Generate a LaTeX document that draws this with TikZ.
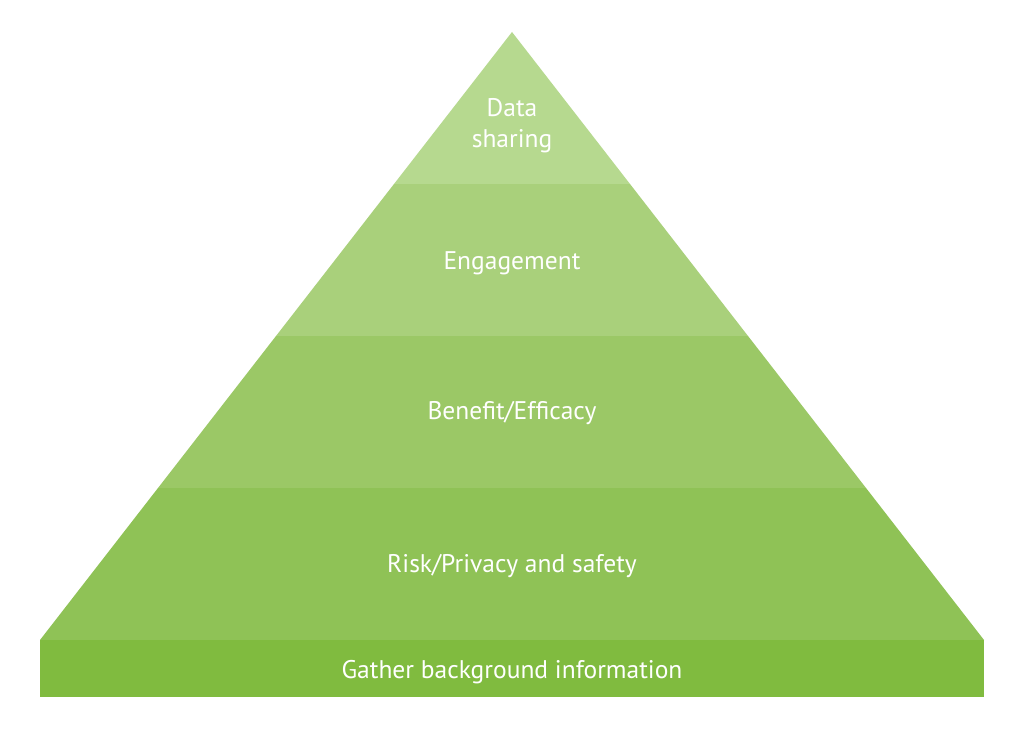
\documentclass[tikz,border=0pt]{standalone}
\usepackage{fontspec}
\setmainfont{PT Sans}
\definecolor{bandA}{HTML}{B6D98F}
\definecolor{bandB}{HTML}{A9D07B}
\definecolor{bandC}{HTML}{9BC866}
\definecolor{bandD}{HTML}{8FC256}
\definecolor{bandE}{HTML}{80BB3F}
\tikzset{lbl/.style={text=white,font=\fontsize{25.5}{31}\selectfont,align=center,inner sep=0pt}}
\begin{document}
\begin{tikzpicture}[x=1pt,y=-1pt]
\useasboundingbox (0,0) rectangle (1024,730);
\fill[white] (0,0) rectangle (1024,730);
\fill[bandA] (512,32) -- (630,184) -- (394,184) -- cycle;
\fill[bandB] (394,184) -- (630,184) -- (748,336) -- (276,336) -- cycle;
\fill[bandC] (276,336) -- (748,336) -- (866,488) -- (158,488) -- cycle;
\fill[bandD] (158,488) -- (866,488) -- (984,640) -- (40,640) -- cycle;
\fill[bandE] (40,640) rectangle (984,697);
\node[lbl] (t1) at (512,126) {Data\\sharing};
\node[lbl] (t2) at (512,263) {Engagement};
\node[lbl] (t3) at (512,413) {Benefit/Efficacy};
\node[lbl] (t4) at (512,566) {Risk/Privacy and safety};
\node[lbl] (t5) at (512,672) {Gather background information};
\end{tikzpicture}
\end{document}
